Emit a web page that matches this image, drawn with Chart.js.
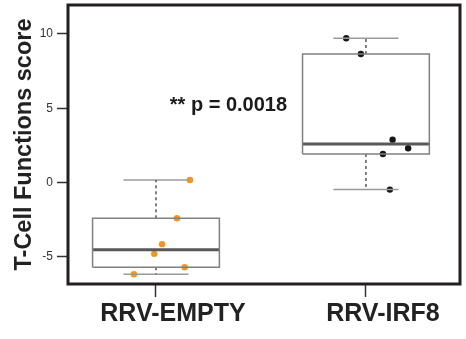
<!DOCTYPE html>
<html><head><meta charset="utf-8">
<script src="https://cdn.jsdelivr.net/npm/chart.js@4/dist/chart.umd.min.js"></script>
<style>html,body{margin:0;padding:0;background:#fff}</style>
</head><body>
<canvas id="c" width="466" height="339"></canvas>
<script>
// ---- data ----
const categories = ['RRV-EMPTY', 'RRV-IRF8'];
const categoryPos = [1, 2];
const yTickValues = [-5, 0, 5, 10];
const whiskerLow  = [-6.16, -0.47];
const q1          = [-5.69,  1.93];
const median      = [-4.51,  2.60];
const q3          = [-2.40,  8.65];
const whiskerHigh = [ 0.18,  9.71];
const emptyX = [1.162, 1.100, 1.029, 0.992, 1.137, 0.895];
const emptyY = [0.18, -2.40, -4.14, -4.79, -5.69, -6.16];
const irf8X  = [1.906, 1.976, 2.127, 2.201, 2.081, 2.114];
const irf8Y  = [9.71, 8.65, 2.89, 2.31, 1.93, -0.47];
const annotationText = '** p = 0.0018';
const annotationAt = {x: 1.345, y: 5.2};

// ---- styling ----
const FONT = "'Liberation Sans', Arial, Helvetica, sans-serif";
const boxHalf = 0.302, capHalf = 0.155;
const pointColors = ['#f7941d', '#161616'];

const datasets = [];
const line = (pts, color, width, dash) => ({
  data: pts, showLine: true, borderColor: color, borderWidth: width,
  borderDash: dash || [], pointRadius: 0, fill: false, tension: 0
});
categoryPos.forEach((c, i) => {
  datasets.push(line([
    {x: c - boxHalf, y: q1[i]}, {x: c + boxHalf, y: q1[i]},
    {x: c + boxHalf, y: q3[i]}, {x: c - boxHalf, y: q3[i]},
    {x: c - boxHalf, y: q1[i]}], '#808080', 1.5));
  datasets.push(line([{x: c - boxHalf, y: median[i]}, {x: c + boxHalf, y: median[i]}], '#585858', 3));
  datasets.push(line([{x: c, y: q3[i]}, {x: c, y: whiskerHigh[i]}], '#555555', 1.5, [3, 3]));
  datasets.push(line([{x: c, y: q1[i]}, {x: c, y: whiskerLow[i]}], '#555555', 1.5, [3, 3]));
  datasets.push(line([{x: c - capHalf, y: whiskerHigh[i]}, {x: c + capHalf, y: whiskerHigh[i]}], '#9a9a9a', 1.5));
  datasets.push(line([{x: c - capHalf, y: whiskerLow[i]}, {x: c + capHalf, y: whiskerLow[i]}], '#9a9a9a', 1.5));
});
[[emptyX, emptyY], [irf8X, irf8Y]].forEach(([xs, ys], i) => {
  datasets.push({
    data: xs.map((x, k) => ({x, y: ys[k]})), showLine: false,
    pointRadius: 3.2, pointBackgroundColor: pointColors[i], pointBorderWidth: 0,
    borderColor: pointColors[i]
  });
});

const framePlugin = {
  id: 'frame',
  afterDatasetsDraw(chart) {
    const {ctx, chartArea: a, scales} = chart;
    ctx.save();
    ctx.strokeStyle = '#231f20';
    ctx.lineWidth = 3;
    ctx.strokeRect(a.left, a.top, a.right - a.left, a.bottom - a.top);
    ctx.fillStyle = '#1a1a1a';
    ctx.font = 'bold 20px ' + FONT;
    ctx.textAlign = 'center';
    ctx.textBaseline = 'middle';
    ctx.fillText(annotationText, scales.x.getPixelForValue(annotationAt.x), scales.y.getPixelForValue(annotationAt.y));
    ctx.restore();
  }
};

new Chart(document.getElementById('c'), {
  type: 'scatter',
  data: {datasets},
  plugins: [framePlugin],
  options: {
    responsive: false, animation: false, devicePixelRatio: 1,
    layout: {padding: {left: 0, top: 5, right: 6, bottom: 0}},
    plugins: {legend: {display: false}, tooltip: {enabled: false}},
    scales: {
      x: {
        type: 'linear', min: 0.581, max: 2.448,
        afterBuildTicks: s => { s.ticks = categoryPos.map(v => ({value: v})); },
        afterFit: s => { s.height = 55; s.paddingLeft = 0; s.paddingRight = 0; },
        ticks: {
          callback: (v, idx) => categories[idx], autoSkip: false, maxRotation: 0,
          font: {family: FONT, size: 25, weight: 'bold'}, color: '#222', padding: 2, labelOffset: 17
        },
        grid: {drawOnChartArea: false, tickLength: 13, tickColor: '#333', tickWidth: 1.5},
        border: {display: false}
      },
      y: {
        type: 'linear', min: -6.82, max: 11.95,
        afterBuildTicks: s => { s.ticks = yTickValues.map(v => ({value: v})); },
        afterFit: s => { s.width = 68; s.paddingTop = 0; s.paddingBottom = 0; },
        ticks: {font: {family: FONT, size: 12}, color: '#333', padding: 4},
        grid: {drawOnChartArea: false, tickLength: 11, tickColor: '#333', tickWidth: 1.5},
        border: {display: false},
        title: {
          display: true, text: 'T-Cell Functions score', color: '#222',
          font: {family: FONT, size: 23.5, weight: 'bold'}, padding: {top: 10, bottom: 0}
        }
      }
    }
  }
});
</script>
</body></html>
